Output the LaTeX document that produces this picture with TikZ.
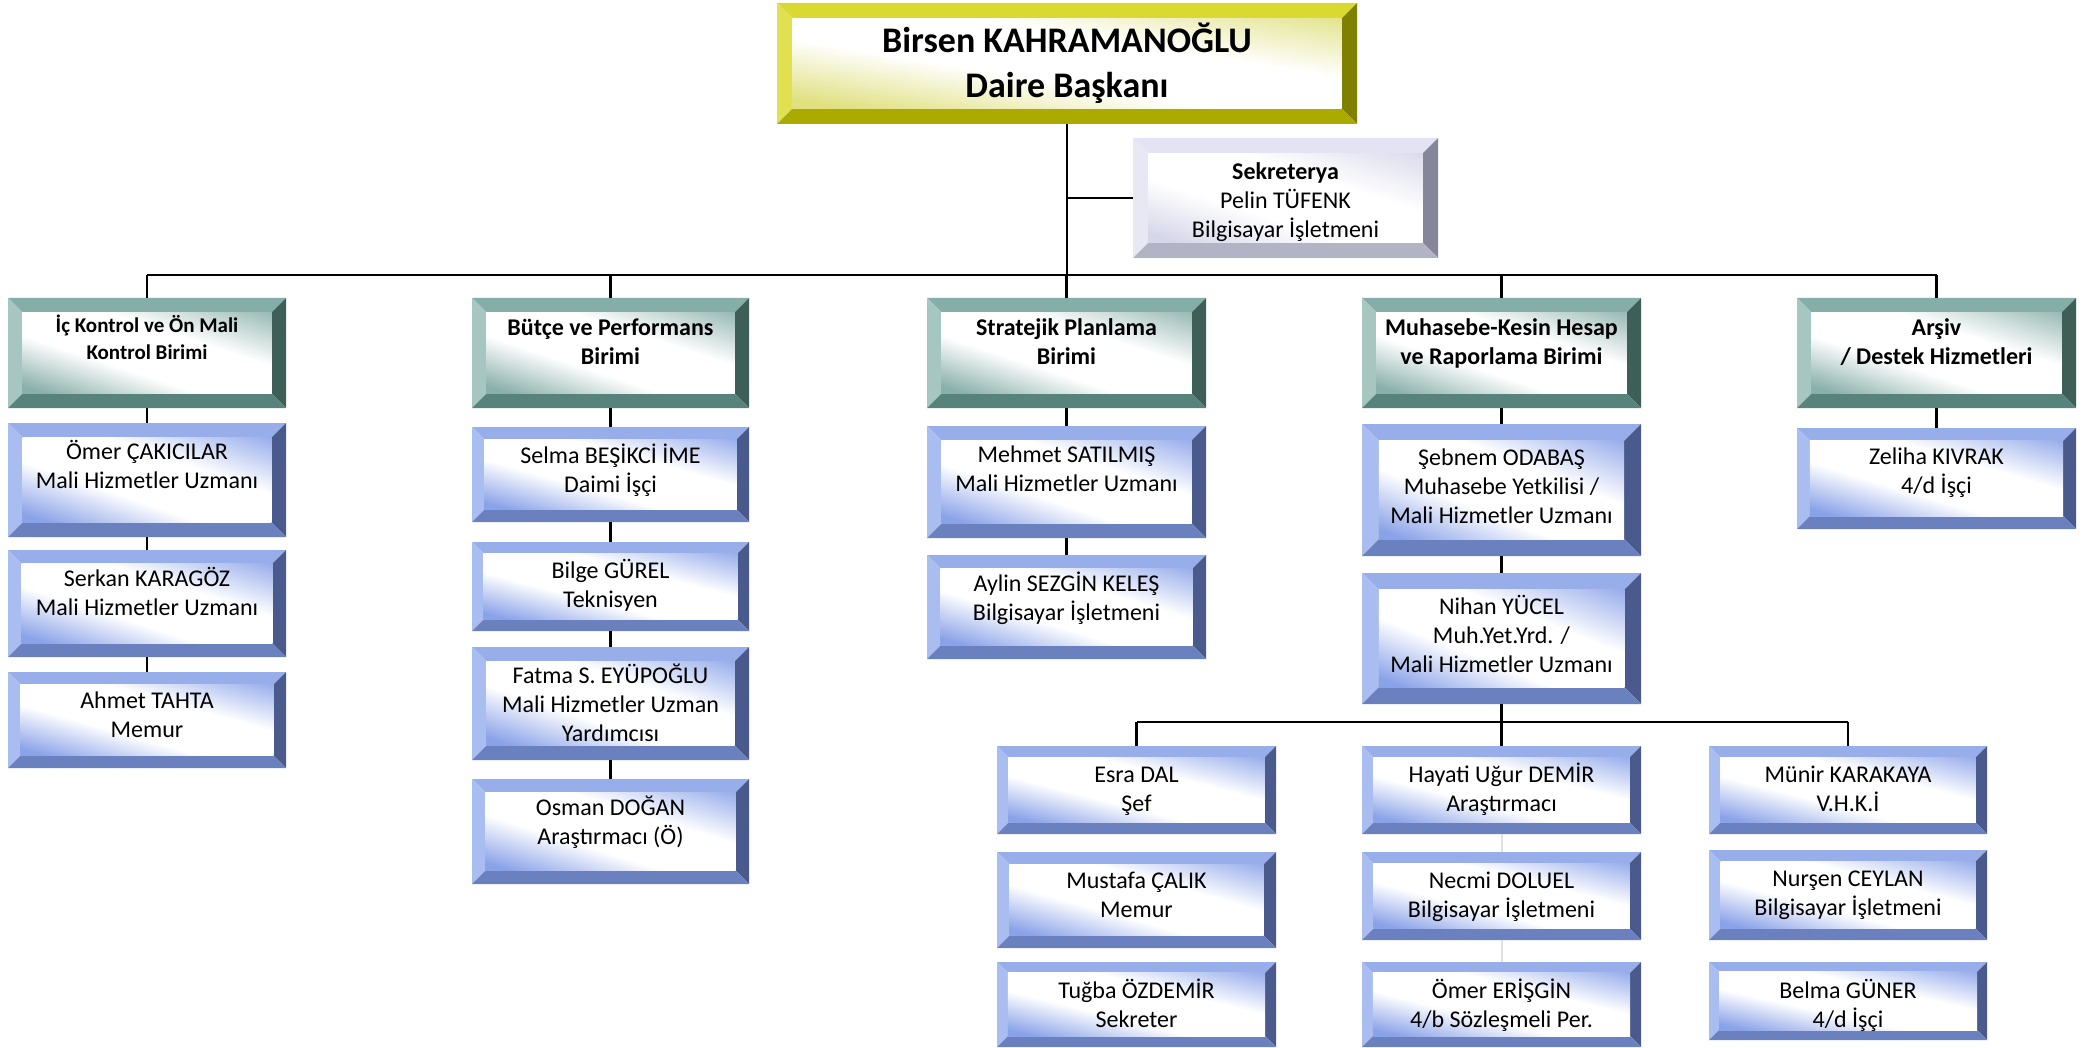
\documentclass[tikz,border=0pt]{standalone}
\usepackage{fontspec}
\setmainfont{Carlito}
\definecolor{blT}{HTML}{97AEEA}
\definecolor{blL}{HTML}{AABDF0}
\definecolor{blR}{HTML}{4A5A8C}
\definecolor{blB}{HTML}{6B80BF}
\definecolor{blF}{HTML}{8AA2E8}
\definecolor{tlT}{HTML}{86AEA8}
\definecolor{tlL}{HTML}{A6C6C1}
\definecolor{tlR}{HTML}{3E5E58}
\definecolor{tlB}{HTML}{58837C}
\definecolor{tlF}{HTML}{8AB0AA}
\definecolor{ylT}{HTML}{D9D932}
\definecolor{ylL}{HTML}{E0E050}
\definecolor{ylR}{HTML}{7F7F00}
\definecolor{ylB}{HTML}{AAAA00}
\definecolor{ylF}{HTML}{E0E080}
\definecolor{lvT}{HTML}{E3E3F3}
\definecolor{lvL}{HTML}{E8E8F5}
\definecolor{lvR}{HTML}{86869A}
\definecolor{lvB}{HTML}{B3B3C6}
\definecolor{lvF}{HTML}{D6D6EA}
\pgfdeclarehorizontalshading{blS}{100bp}{color(0bp)=(blF); color(18bp)=(blF); color(40bp)=(white); color(62bp)=(white); color(86bp)=(blF!90!white); color(100bp)=(blF!90!white)}
\pgfdeclarehorizontalshading{tlS}{100bp}{color(0bp)=(tlF); color(18bp)=(tlF); color(40bp)=(white); color(62bp)=(white); color(86bp)=(tlF!90!white); color(100bp)=(tlF!90!white)}
\pgfdeclarehorizontalshading{ylS}{100bp}{color(0bp)=(ylF); color(18bp)=(ylF); color(42bp)=(white); color(62bp)=(white); color(86bp)=(ylF!90!white); color(100bp)=(ylF!90!white)}
\pgfdeclarehorizontalshading{lvS}{100bp}{color(0bp)=(lvF); color(18bp)=(lvF); color(40bp)=(white); color(62bp)=(white); color(86bp)=(lvF!90!white); color(100bp)=(lvF!90!white)}
\newcommand\bvbox[8]{%
  \pgfmathsetmacro\bvw{0.128*(#5-#3)}%
  \pgfmathsetmacro\bvxa{#2+\bvw}%
  \pgfmathsetmacro\bvxb{#4-\bvw}%
  \pgfmathsetmacro\bvya{#3+\bvw}%
  \pgfmathsetmacro\bvyb{#5-\bvw}%
  \pgfmathsetmacro\bvsx{(\bvxb-\bvxa)/100}%
  \pgfmathsetmacro\bvsy{(\bvyb-\bvya)/100}%
  \fill[#6T] (#2,#3) -- (#4,#3) -- (\bvxb,\bvya) -- (\bvxa,\bvya) -- cycle;
  \fill[#6L] (#2,#3) -- (\bvxa,\bvya) -- (\bvxa,\bvyb) -- (#2,#5) -- cycle;
  \fill[#6R] (#4,#3) -- (#4,#5) -- (\bvxb,\bvyb) -- (\bvxb,\bvya) -- cycle;
  \fill[#6B] (#2,#5) -- (\bvxa,\bvyb) -- (\bvxb,\bvyb) -- (#4,#5) -- cycle;
  \begin{scope}[transform canvas={shift={(\bvxa,\bvyb)}, xscale=\bvsx, yscale=\bvsy}]
    \shade[shading=#6S, shading angle=45] (0,0) rectangle (100,-100);
  \end{scope}
  \node[boxnode, minimum width={(#4-#2)*1pt}, minimum height={(#5-#3)*1pt}] (#1) at ({(#2+#4)/2},{(#3+#5)/2}) {};
  \node[txt, anchor=north, #7] (#1-t) at ({(#2+#4)/2},#3) {\strut #8};
}
\tikzset{
  boxnode/.style={rectangle, inner sep=0pt, outer sep=0pt, draw=none},
  txt/.style={inner sep=0pt, align=center, font=\fontsize{24}{29}\selectfont, text=black},
  hd/.style={font=\fontsize{24}{29}\selectfont\bfseries},
  conn/.style={line width=2.6pt, black},
  faint/.style={line width=2pt, black!12},
}
\begin{document}
\begin{tikzpicture}[x=1pt,y=-1pt]
\useasboundingbox (0,0) rectangle (2087,1048);
\fill[white] (0,0) rectangle (2087,1048);
% head
\bvbox{top}{777}{3}{1357}{124}{yl}{yshift=-18pt, font=\fontsize{36}{45}\selectfont\bfseries}{Birsen KAHRAMANOĞLU\\Daire Başkanı}
\bvbox{sek}{1133}{138}{1438}{258}{lv}{yshift=-21pt}{\textbf{Sekreterya}\\Pelin TÜFENK\\Bilgisayar İşletmeni}
% units
\bvbox{u1}{8}{298}{286}{408}{tl}{yshift=-15pt, font=\fontsize{21}{27}\selectfont\bfseries}{İç Kontrol ve Ön Mali\\Kontrol Birimi}
\bvbox{u2}{472}{298}{749}{408}{tl}{yshift=-17pt, hd}{Bütçe ve Performans\\Birimi}
\bvbox{u3}{927}{298}{1206}{408}{tl}{yshift=-17pt, hd}{Stratejik Planlama\\Birimi}
\bvbox{u4}{1362}{298}{1641}{408}{tl}{yshift=-17pt, hd}{Muhasebe-Kesin Hesap\\ve Raporlama Birimi}
\bvbox{u5}{1797}{298}{2076}{408}{tl}{yshift=-17pt, hd}{Arşiv\\/ Destek Hizmetleri}
% column 1
\bvbox{a1}{8}{423}{286}{537}{bl}{yshift=-16pt}{Ömer ÇAKICILAR\\Mali Hizmetler Uzmanı}
\bvbox{a2}{8}{550}{286}{657}{bl}{yshift=-16pt}{Serkan KARAGÖZ\\Mali Hizmetler Uzmanı}
\bvbox{a3}{8}{672}{286}{768}{bl}{yshift=-16pt}{Ahmet TAHTA\\Memur}
% column 2
\bvbox{b1}{472}{427}{749}{522}{bl}{yshift=-16pt}{Selma BEŞİKCİ İME\\Daimi İşçi}
\bvbox{b2}{472}{542}{749}{631}{bl}{yshift=-16pt}{Bilge GÜREL\\Teknisyen}
\bvbox{b3}{472}{647}{749}{760}{bl}{yshift=-16pt}{Fatma S. EYÜPOĞLU\\Mali Hizmetler Uzman\\Yardımcısı}
\bvbox{b4}{472}{779}{749}{884}{bl}{yshift=-16pt}{Osman DOĞAN\\Araştırmacı (Ö)}
% column 3
\bvbox{c1}{927}{426}{1206}{538}{bl}{yshift=-16pt}{Mehmet SATILMIŞ\\Mali Hizmetler Uzmanı}
\bvbox{c2}{927}{555}{1206}{659}{bl}{yshift=-16pt}{Aylin SEZGİN KELEŞ\\Bilgisayar İşletmeni}
% column 4
\bvbox{d1}{1362}{424}{1641}{556}{bl}{yshift=-21pt}{Şebnem ODABAŞ\\Muhasebe Yetkilisi /\\Mali Hizmetler Uzmanı}
\bvbox{d2}{1362}{573}{1641}{704}{bl}{yshift=-21pt}{Nihan YÜCEL\\Muh.Yet.Yrd. /\\Mali Hizmetler Uzmanı}
% column 5
\bvbox{f1}{1797}{428}{2076}{529}{bl}{yshift=-16pt}{Zeliha KIVRAK\\4/d İşçi}
% sub columns
\bvbox{e1}{997}{746}{1276}{834}{bl}{yshift=-16pt}{Esra DAL\\Şef}
\bvbox{e2}{997}{852}{1276}{948}{bl}{yshift=-16pt}{Mustafa ÇALIK\\Memur}
\bvbox{e3}{997}{962}{1276}{1047}{bl}{yshift=-16pt}{Tuğba ÖZDEMİR\\Sekreter}
\bvbox{h1}{1362}{746}{1641}{834}{bl}{yshift=-16pt}{Hayati Uğur DEMİR\\Araştırmacı}
\bvbox{h2}{1362}{852}{1641}{940}{bl}{yshift=-16pt}{Necmi DOLUEL\\Bilgisayar İşletmeni}
\bvbox{h3}{1362}{962}{1641}{1047}{bl}{yshift=-16pt}{Ömer ERİŞGİN\\4/b Sözleşmeli Per.}
\bvbox{m1}{1709}{746}{1987}{834}{bl}{yshift=-16pt}{Münir KARAKAYA\\V.H.K.İ}
\bvbox{m2}{1709}{850}{1987}{940}{bl}{yshift=-16pt}{Nurşen CEYLAN\\Bilgisayar İşletmeni}
\bvbox{m3}{1709}{962}{1987}{1040}{bl}{yshift=-16pt}{Belma GÜNER\\4/d İşçi}
% connectors
\coordinate (bus) at (1067,275);
\coordinate (sub) at (1501.5,722);
\draw[conn] (top.south) -- (top.south |- bus);
\draw[conn] (sek.west) -- (sek.west -| top.south);
\draw[conn] (u1.north |- bus) -- (u5.north |- bus);
\foreach \u in {u1,u2,u3,u4,u5} \draw[conn] (\u.north) -- (\u.north |- bus);
\draw[conn] (u1.south) -- (a1.north);
\draw[conn] (a1.south) -- (a2.north);
\draw[conn] (a2.south) -- (a3.north);
\draw[conn] (u2.south) -- (b1.north);
\draw[conn] (b1.south) -- (b2.north);
\draw[conn] (b2.south) -- (b3.north);
\draw[conn] (b3.south) -- (b4.north);
\draw[conn] (u3.south) -- (c1.north);
\draw[conn] (c1.south) -- (c2.north);
\draw[conn] (u4.south) -- (d1.north);
\draw[conn] (d1.south) -- (d2.north);
\draw[conn] (d2.south) -- (d2.south |- sub);
\draw[conn] (e1.north |- sub) -- (m1.north |- sub);
\foreach \u in {e1,h1,m1} \draw[conn] (\u.north) -- (\u.north |- sub);
\draw[faint] (h1.south) -- (h2.north);
\draw[faint] (h2.south) -- (h3.north);
\draw[conn] (u5.south) -- (f1.north);
\end{tikzpicture}
\end{document}
